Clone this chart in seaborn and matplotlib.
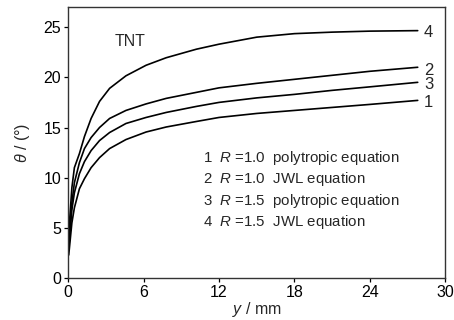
import pandas as pd
import seaborn as sns
import matplotlib.pyplot as plt

# ---------- data ----------
Y_MM = [0.05, 0.3, 0.5, 0.9, 1.3, 1.83, 2.5, 3.3, 4.6, 6.2, 7.8, 10.2, 12, 15, 18, 21, 24, 27.8]
THETA_1 = [2.3, 5.5, 7.0, 8.9, 9.9, 11.0, 12.0, 12.9, 13.8, 14.55, 15.05, 15.6, 16.0, 16.4, 16.7, 17.0, 17.3, 17.7]
THETA_2 = [3.5, 7.5, 9.5, 11.5, 12.9, 14.0, 15.0, 15.9, 16.7, 17.35, 17.9, 18.5, 18.95, 19.4, 19.8, 20.2, 20.6, 21.0]
THETA_3 = [3.0, 6.8, 8.5, 10.4, 11.6, 12.7, 13.7, 14.5, 15.4, 16.0, 16.5, 17.1, 17.5, 17.95, 18.3, 18.7, 19.05, 19.5]
THETA_4 = [4.5, 9.0, 11.0, 12.4, 14.1, 15.9, 17.6, 18.9, 20.15, 21.2, 21.95, 22.8, 23.3, 24.0, 24.35, 24.5, 24.6, 24.65]

CURVE_IDS = ["1", "2", "3", "4"]
END_LABEL_Y = [17.5, 20.7, 19.3, 24.5]
LEGEND_LINES = [
    "1  $R$ =1.0  polytropic equation",
    "2  $R$ =1.0  JWL equation",
    "3  $R$ =1.5  polytropic equation",
    "4  $R$ =1.5  JWL equation",
]
X_TICKS = [0, 6, 12, 18, 24, 30]
Y_TICKS = [0, 5, 10, 15, 20, 25]


def main() -> int:
    sns.set_theme(style="ticks")
    plt.rcParams["font.family"] = ["Liberation Sans", "DejaVu Sans"]
    plt.rcParams["mathtext.fontset"] = "custom"
    plt.rcParams["mathtext.rm"] = "Liberation Sans"
    plt.rcParams["mathtext.it"] = "Liberation Sans:italic"

    frames = []
    for cid, vals in zip(CURVE_IDS, [THETA_1, THETA_2, THETA_3, THETA_4]):
        frames.append(pd.DataFrame({"y": Y_MM, "theta": vals, "curve": cid}))
    df = pd.concat(frames, ignore_index=True)

    fig = plt.figure(figsize=(4.54, 3.2), dpi=100)
    ax = fig.add_axes([0.150, 0.131, 0.831, 0.847])
    sns.lineplot(data=df, x="y", y="theta", units="curve", estimator=None,
                 color="black", linewidth=1.2, ax=ax, legend=False)

    ax.set_xlim(0, 30)
    ax.set_ylim(0, 27)
    ax.set_xticks(X_TICKS)
    ax.set_yticks(Y_TICKS)
    ax.tick_params(direction="out", length=3, width=0.9, labelsize=11.5,
                   colors="black", pad=2)
    for sp in ax.spines.values():
        sp.set_visible(True)
        sp.set_linewidth(1.0)
        sp.set_color("#333333")

    ax.set_xlabel("$y$ / mm", fontsize=11.5, labelpad=0)
    ax.set_ylabel("$\\theta$ / (°)", fontsize=11.5, labelpad=8)

    ax.text(3.7, 23.55, "TNT", fontsize=11.5, va="center", ha="left")
    for cid, ly in zip(CURVE_IDS, END_LABEL_Y):
        ax.text(28.3, ly, cid, fontsize=12, va="center", ha="left")
    for i, line in enumerate(LEGEND_LINES):
        ax.text(10.7, 11.95 - i * 2.12, line, fontsize=10.8, va="center", ha="left")

    fig.savefig("out.png", dpi=100)
    plt.close(fig)
    return 0


if __name__ == "__main__":
    raise SystemExit(main())
